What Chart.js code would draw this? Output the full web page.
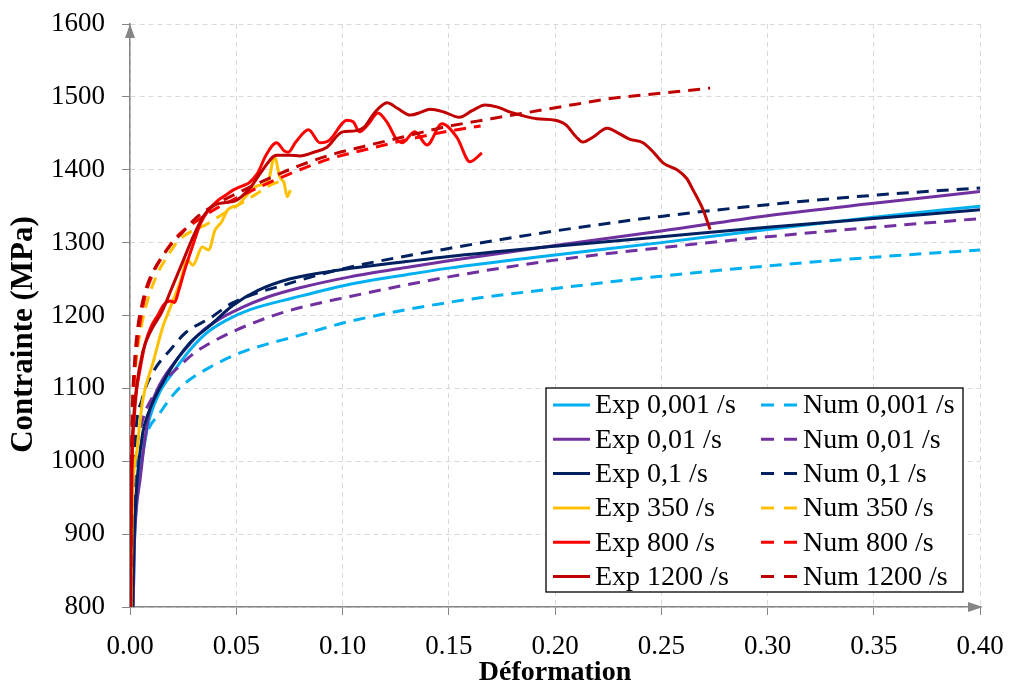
<!DOCTYPE html>
<html>
<head>
<meta charset="utf-8">
<script src="https://cdn.jsdelivr.net/npm/chart.js@4.4.0/dist/chart.umd.min.js"></script>
<style>
  html, body { margin: 0; padding: 0; background: #fff; }
</style>
</head>
<body>
<canvas id="stressChart" width="1011" height="685"></canvas>
<script>
// [strain, stress MPa] pairs
const exp0001 = [[0.0015,800],[0.002,880],[0.003,940],[0.005,990],[0.008,1043],[0.0094,1061],[0.014,1095],[0.02,1121],[0.028,1152],[0.036,1176],[0.045,1193],[0.0565,1208],[0.0767,1224],[0.1035,1243],[0.13,1256],[0.15,1265],[0.2,1283],[0.25,1300],[0.3,1318],[0.35,1335],[0.4,1350]];
const num0001 = [[0.001,800],[0.002,930],[0.004,1000],[0.008,1040],[0.014,1066],[0.02,1090],[0.025,1105],[0.0376,1129],[0.053,1150],[0.08,1173],[0.1035,1192],[0.15,1218],[0.2,1237],[0.25,1254],[0.3,1268],[0.35,1280],[0.4,1290]];
const exp001 = [[0.0015,800],[0.002,880],[0.003,935],[0.0047,974],[0.007,1030],[0.0094,1071],[0.014,1105],[0.02,1132],[0.027,1157],[0.033,1176],[0.042,1195],[0.052,1210],[0.0645,1225],[0.08,1238],[0.1035,1253],[0.13,1266],[0.15,1275],[0.2,1296],[0.25,1316],[0.3,1337],[0.35,1354],[0.4,1370]];
const num001 = [[0.001,800],[0.0015,930],[0.003,1010],[0.0056,1053],[0.01,1085],[0.0155,1108],[0.022,1127],[0.03,1148],[0.0376,1162],[0.0485,1178],[0.06,1192],[0.074,1206],[0.1035,1226],[0.15,1253],[0.2,1276],[0.25,1293],[0.3,1308],[0.35,1321],[0.4,1333]];
const exp01 = [[0.0012,800],[0.002,900],[0.003,960],[0.006,1039],[0.008,1061],[0.0174,1118],[0.028,1162],[0.0376,1186],[0.0485,1214],[0.06,1234],[0.075,1250],[0.1,1263],[0.13,1274],[0.15,1281],[0.2,1295],[0.25,1308],[0.3,1321],[0.35,1333],[0.4,1345]];
const num01 = [[0.001,800],[0.0015,950],[0.0025,1030],[0.0056,1084],[0.011,1123],[0.019,1153],[0.026,1176],[0.038,1197],[0.048,1217],[0.075,1244],[0.1,1264],[0.15,1292],[0.2,1316],[0.25,1336],[0.3,1352],[0.35,1365],[0.4,1375]];
const exp350 = [[0.0005,800],[0.001,920],[0.0014,965],[0.0033,1016],[0.006,1084],[0.0108,1135],[0.0155,1185],[0.018,1204],[0.0235,1245],[0.027,1276],[0.0296,1269],[0.034,1294],[0.037,1290],[0.04,1317],[0.043,1328],[0.046,1345],[0.051,1352],[0.0565,1370],[0.06,1378],[0.065,1384],[0.068,1418],[0.0705,1390],[0.0725,1382],[0.074,1363],[0.0755,1372]];
const num350 = [[0.0003,800],[0.0008,1000],[0.0015,1080],[0.003,1140],[0.005,1180],[0.008,1218],[0.0127,1256],[0.018,1283],[0.0226,1302],[0.028,1314],[0.0353,1324],[0.0447,1341],[0.05,1350],[0.0574,1363],[0.0668,1380],[0.073,1386]];
const exp800 = [[0.0003,800],[0.0006,920],[0.001,1000],[0.002,1060],[0.003,1095],[0.005,1130],[0.007,1160],[0.01,1185],[0.013,1200],[0.016,1215],[0.019,1220],[0.021,1218],[0.023,1235],[0.026,1265],[0.03,1300],[0.033,1325],[0.037,1345],[0.041,1357],[0.045,1365],[0.0485,1372],[0.053,1378],[0.056,1382],[0.06,1395],[0.064,1420],[0.069,1437],[0.0725,1426],[0.0745,1424],[0.078,1438],[0.084,1455],[0.0894,1437],[0.094,1441],[0.1,1464],[0.102,1468],[0.105,1466],[0.108,1452],[0.112,1462],[0.1167,1478],[0.121,1465],[0.1256,1441],[0.128,1437],[0.134,1452],[0.1398,1434],[0.1468,1463],[0.1539,1444],[0.16,1411],[0.1656,1423]];
const num800 = [[0.0003,800],[0.0007,950],[0.0012,1050],[0.0022,1120],[0.004,1175],[0.007,1225],[0.01,1252],[0.015,1280],[0.022,1308],[0.03,1327],[0.04,1346],[0.05,1361],[0.06,1375],[0.07,1388],[0.08,1400],[0.094,1415],[0.11,1427],[0.13,1441],[0.15,1453],[0.165,1460]];
const exp1200 = [[0.0002,800],[0.0004,900],[0.0008,1000],[0.0015,1050],[0.003,1100],[0.006,1150],[0.01,1180],[0.015,1205],[0.02,1240],[0.025,1275],[0.03,1310],[0.035,1338],[0.04,1352],[0.045,1355],[0.05,1358],[0.0565,1375],[0.062,1398],[0.069,1420],[0.075,1420],[0.08,1419],[0.0865,1424],[0.0927,1431],[0.1,1452],[0.105,1453],[0.11,1458],[0.115,1478],[0.121,1492],[0.126,1484],[0.132,1475],[0.137,1479],[0.141,1483],[0.148,1479],[0.155,1472],[0.161,1481],[0.167,1489],[0.173,1486],[0.179,1479],[0.185,1474],[0.1915,1470],[0.2,1468],[0.205,1462],[0.21,1445],[0.213,1438],[0.218,1445],[0.2245,1457],[0.23,1450],[0.235,1442],[0.2414,1437],[0.246,1425],[0.251,1409],[0.2574,1400],[0.262,1388],[0.265,1372],[0.2697,1345],[0.273,1318]];
const num1200 = [[0.0002,800],[0.0005,950],[0.001,1060],[0.002,1130],[0.0035,1180],[0.006,1220],[0.0085,1245],[0.0174,1290],[0.025,1315],[0.0315,1335],[0.04,1352],[0.05,1367],[0.06,1381],[0.07,1394],[0.08,1406],[0.094,1420],[0.11,1432],[0.13,1446],[0.147,1458],[0.17,1470],[0.188,1479],[0.21,1490],[0.227,1498],[0.25,1505],[0.273,1512]];

const seriesLabels = ['Exp 0,001 /s', 'Num 0,001 /s', 'Exp 0,01 /s', 'Num 0,01 /s', 'Exp 0,1 /s', 'Num 0,1 /s',
  'Exp 350 /s', 'Num 350 /s', 'Exp 800 /s', 'Num 800 /s', 'Exp 1200 /s', 'Num 1200 /s'];
const seriesData = [exp0001, num0001, exp001, num001, exp01, num01, exp350, num350, exp800, num800, exp1200, num1200];
const rateColors = ['#00B0F0', '#7030A0', '#002060', '#FFC000', '#FF0000', '#C00000'];

const xTicks = [0, 0.05, 0.1, 0.15, 0.2, 0.25, 0.3, 0.35, 0.4];
const yMin = 800, yMax = 1600, yStep = 100;
const xTitle = 'Déformation';
const yTitle = 'Contrainte (MPa)';

const FONT = "'Liberation Serif', 'Times New Roman', serif";
const AXIS_GRAY = '#868686';
const GRID_GRAY = '#D9D9D9';
const DASH = [12, 8];

const datasets = seriesData.map((pts, i) => ({
  label: seriesLabels[i],
  data: pts.map(p => ({ x: p[0], y: p[1] })),
  borderColor: rateColors[Math.floor(i / 2)],
  borderWidth: 3,
  borderDash: i % 2 ? DASH : [],
  pointRadius: 0,
  fill: false,
  cubicInterpolationMode: 'monotone',
  order: seriesData.length - i
}));

// arrow heads at the ends of both axes + the two axis titles
const axisDecor = {
  id: 'axisDecor',
  afterDraw(chart) {
    const { ctx, chartArea: a } = chart;
    ctx.save();
    ctx.fillStyle = AXIS_GRAY;
    ctx.beginPath();
    ctx.moveTo(a.left, a.top);
    ctx.lineTo(a.left - 5, a.top + 14);
    ctx.lineTo(a.left + 5, a.top + 14);
    ctx.fill();
    ctx.beginPath();
    ctx.moveTo(a.right + 3, a.bottom);
    ctx.lineTo(a.right - 12, a.bottom - 5);
    ctx.lineTo(a.right - 12, a.bottom + 5);
    ctx.fill();

    ctx.fillStyle = '#000';
    ctx.textAlign = 'center';
    ctx.textBaseline = 'middle';
    ctx.font = 'bold 28px ' + FONT;
    ctx.fillText(xTitle, (a.left + a.right) / 2, a.bottom + 66);

    // excel centres this title a bit below the plot centre
    ctx.translate(24, (a.top + a.bottom) / 2 + 19);
    ctx.rotate(-Math.PI / 2);
    ctx.font = 'bold 31px ' + FONT;
    ctx.fillText(yTitle, 0, 0);
    ctx.restore();
  }
};

// two-column boxed legend inside the plot, lower right
const boxLegend = {
  id: 'boxLegend',
  afterDraw(chart) {
    const { ctx, chartArea: a } = chart;
    const w = 417, h = 204, rowH = 34.3;
    const x0 = a.right - 17 - w, y0 = a.bottom - 15 - h;
    ctx.save();
    ctx.fillStyle = '#fff';
    ctx.fillRect(x0, y0, w, h);
    ctx.strokeStyle = '#000';
    ctx.lineWidth = 1.3;
    ctx.strokeRect(x0, y0, w, h);
    ctx.font = '28px ' + FONT;
    ctx.textBaseline = 'middle';
    ctx.fillStyle = '#000';
    chart.data.datasets.forEach((ds, i) => {
      const col = i % 2, row = Math.floor(i / 2);
      const lx = x0 + 7 + col * 208;
      const ly = y0 + 17 + row * rowH;
      ctx.strokeStyle = ds.borderColor;
      ctx.lineWidth = 3;
      ctx.setLineDash(col ? [13, 10] : []);
      ctx.beginPath();
      ctx.moveTo(lx, ly);
      ctx.lineTo(lx + 37, ly);
      ctx.stroke();
      ctx.setLineDash([]);
      ctx.fillText(ds.label, lx + 42, ly + 1);
    });
    ctx.restore();
  }
};

new Chart(document.getElementById('stressChart'), {
  type: 'line',
  data: { datasets },
  options: {
    responsive: false,
    animation: false,
    devicePixelRatio: 1,
    layout: { padding: { top: 24, right: 31, left: 0, bottom: 0 } },
    plugins: { legend: { display: false }, tooltip: { enabled: false } },
    scales: {
      x: {
        type: 'linear',
        min: 0,
        max: 0.4,
        afterBuildTicks: s => { s.ticks = xTicks.map(v => ({ value: v })); },
        afterFit: s => { s.height = 78; s.paddingLeft = 0; s.paddingRight = 0; },
        ticks: {
          color: '#000',
          font: { family: FONT, size: 27 },
          padding: 16,
          maxRotation: 0,
          callback: v => v.toFixed(2)
        },
        grid: { color: GRID_GRAY, lineWidth: 1, tickLength: 8, tickColor: AXIS_GRAY, tickBorderDash: [] },
        border: { color: AXIS_GRAY, width: 1.5, dash: [5, 4] },
        title: { display: false }
      },
      y: {
        min: yMin,
        max: yMax,
        afterFit: s => { s.width = 130; s.paddingTop = 0; s.paddingBottom = 0; },
        ticks: { stepSize: yStep, color: '#000', font: { family: FONT, size: 27 }, padding: 17, callback: v => String(v) },
        grid: { color: GRID_GRAY, lineWidth: 1, tickLength: 8, tickColor: AXIS_GRAY, tickBorderDash: [] },
        border: { color: AXIS_GRAY, width: 1.5, dash: [5, 4] },
        title: { display: false }
      }
    }
  },
  plugins: [axisDecor, boxLegend]
});
</script>
</body>
</html>
